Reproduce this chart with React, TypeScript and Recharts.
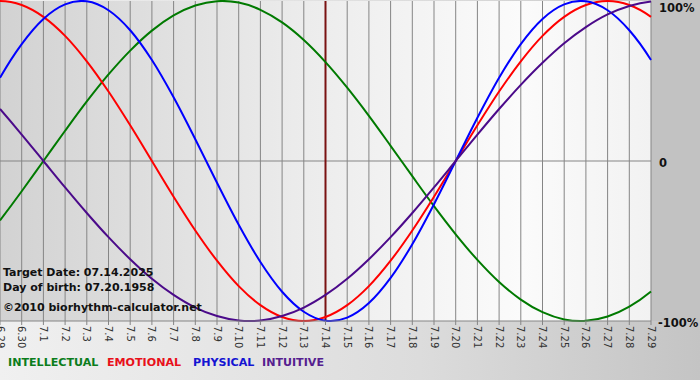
import { LineChart, Line, XAxis, YAxis, CartesianGrid, ReferenceLine } from "recharts";

const dates = [
  "6.29", "6.30", "7.1", "7.2", "7.3", "7.4", "7.5", "7.6", "7.7", "7.8", "7.9",
  "7.10", "7.11", "7.12", "7.13", "7.14", "7.15", "7.16", "7.17", "7.18", "7.19",
  "7.20", "7.21", "7.22", "7.23", "7.24", "7.25", "7.26", "7.27", "7.28", "7.29",
];

// percent values, one per day
const intellectual = [
  -37.2, -18.9, 0, 18.9, 37.2, 54.1, 69.0, 81.5, 91.0, 97.2, 99.9, 99.0, 94.5, 86.6, 75.6, 61.8,
  45.8, 28.2, 9.5, -9.5, -28.2, -45.8, -61.8, -75.6, -86.6, -94.5, -99.0, -99.9, -97.2, -91.0, -81.5,
];
const emotional = [
  100, 97.5, 90.1, 78.2, 62.3, 43.4, 22.3, 0, -22.3, -43.4, -62.3, -78.2, -90.1, -97.5, -100, -97.5,
  -90.1, -78.2, -62.3, -43.4, -22.3, 0, 22.3, 43.4, 62.3, 78.2, 90.1, 97.5, 100, 97.5, 90.1,
];
const physical = [
  52.0, 73.1, 88.8, 97.9, 99.8, 94.2, 81.7, 63.1, 39.8, 13.6, -13.6, -39.8, -63.1, -81.7, -94.2, -99.8,
  -97.9, -88.8, -73.1, -52.0, -27.0, 0, 27.0, 52.0, 73.1, 88.8, 97.9, 99.8, 94.2, 81.7, 63.1,
];
const intuitive = [
  32.5, 16.5, 0, -16.5, -32.5, -47.6, -61.4, -73.6, -83.7, -91.6, -96.9, -99.7, -99.7, -96.9, -91.6, -83.7,
  -73.6, -61.4, -47.6, -32.5, -16.5, 0, 16.5, 32.5, 47.6, 61.4, 73.6, 83.7, 91.6, 96.9, 99.7,
];

const yTicks = [100, 0, -100];
const targetDay = "7.14";
const infoLines = ["Target Date: 07.14.2025", "Day of birth: 07.20.1958", "©2010 biorhythm-calculator.net"];

const SERIES = [
  { key: "intellectual", label: "INTELLECTUAL", color: "#007a00", text: "#0b7d1c" },
  { key: "emotional", label: "EMOTIONAL", color: "#ff0000", text: "#e8101a" },
  { key: "physical", label: "PHYSICAL", color: "#0000ff", text: "#1414d2" },
  { key: "intuitive", label: "INTUITIVE", color: "#4b0a8a", text: "#55208f" },
];

const data = dates.map((date, i) => ({
  date,
  intellectual: intellectual[i],
  emotional: emotional[i],
  physical: physical[i],
  intuitive: intuitive[i],
}));

const FONT = "'DejaVu Sans', Verdana, sans-serif";

// cubic hermite through the points, tangents from neighbours
function smoothCurve(context: any) {
  let xs: number[] = [];
  let ys: number[] = [];
  return {
    areaStart() {},
    areaEnd() {},
    lineStart() {
      xs = [];
      ys = [];
    },
    point(x: number, y: number) {
      xs.push(+x);
      ys.push(+y);
    },
    lineEnd() {
      const n = xs.length;
      if (!n) return;
      context.moveTo(xs[0], ys[0]);
      if (n < 3) {
        for (let i = 1; i < n; i++) context.lineTo(xs[i], ys[i]);
        return;
      }
      const m = ys.map((_, i) => {
        if (i === 0) return (-3 * ys[0] + 4 * ys[1] - ys[2]) / 2;
        if (i === n - 1) return (3 * ys[n - 1] - 4 * ys[n - 2] + ys[n - 3]) / 2;
        return (ys[i + 1] - ys[i - 1]) / 2;
      });
      for (let i = 0; i < n - 1; i++) {
        const dx = xs[i + 1] - xs[i];
        context.bezierCurveTo(
          xs[i] + dx / 3,
          ys[i] + m[i] / 3,
          xs[i + 1] - dx / 3,
          ys[i + 1] - m[i + 1] / 3,
          xs[i + 1],
          ys[i + 1]
        );
      }
    },
  };
}

function XTick(props: any) {
  const { x, y, payload } = props;
  return (
    <g transform={`translate(${x},${y})`}>
      <text
        transform="rotate(90)"
        textAnchor="start"
        dominantBaseline="central"
        fontFamily={FONT}
        fontSize={10}
        fill="#333"
      >
        {payload.value}
      </text>
    </g>
  );
}

function YTick(props: any) {
  const { x, y, payload } = props;
  const v = payload.value;
  const label = v === 0 ? "0" : `${v}%`;
  const dy = v === 100 ? 7 : 2;
  return (
    <text
      x={v < 0 ? x - 1 : x}
      y={y + dy}
      textAnchor="start"
      dominantBaseline="central"
      fontFamily={FONT}
      fontWeight="bold"
      fontSize={11.5}
      fill="#111"
    >
      {label}
    </text>
  );
}

const legendLeft = [8, 107, 193, 262];
const infoTop = [266, 281, 301];

export default function App() {
  return (
    <div
      style={{
        position: "absolute",
        left: 0,
        top: 0,
        width: 700,
        height: 380,
        background: "linear-gradient(to right, #f0f0f0 0%, #dcdcdc 60%, #c4c4c4 100%)",
        fontFamily: FONT,
      }}
    >
      <div style={{ position: "absolute", left: 651, top: 0, width: 49, height: 321, background: "#c2c2c2" }} />
      <LineChart
        width={700}
        height={380}
        data={data}
        margin={{ top: 1, right: 0, left: 0, bottom: 0 }}
        style={{ position: "absolute", left: 0, top: 0 }}
      >
        <defs>
          <linearGradient id="plotBg" x1="0" y1="0" x2="1" y2="0">
            <stop offset="0%" stopColor="#d2d2d2" />
            <stop offset="45%" stopColor="#ebebeb" />
            <stop offset="80%" stopColor="#fbfbfb" />
            <stop offset="100%" stopColor="#f2f2f2" />
          </linearGradient>
        </defs>
        <CartesianGrid horizontal={false} stroke="#858585" fill="url(#plotBg)" fillOpacity={1} />
        <XAxis
          dataKey="date"
          interval={0}
          height={59}
          tickSize={4}
          tickMargin={1}
          stroke="#858585"
          tick={<XTick />}
        />
        <YAxis
          orientation="right"
          width={49}
          domain={[-100, 100]}
          ticks={yTicks}
          interval={0}
          axisLine={false}
          tickLine={false}
          tick={<YTick />}
        />
        <ReferenceLine y={0} stroke="#858585" />
        <ReferenceLine x={targetDay} stroke="#7a1212" strokeWidth={2} />
        {SERIES.map((s) => (
          <Line
            key={s.key}
            type={smoothCurve as any}
            dataKey={s.key}
            stroke={s.color}
            strokeWidth={2}
            dot={false}
            isAnimationActive={false}
          />
        ))}
      </LineChart>
      {infoLines.map((line, i) => (
        <div
          key={line}
          style={{
            position: "absolute",
            left: 3,
            top: infoTop[i],
            fontSize: 11,
            fontWeight: "bold",
            lineHeight: "14px",
            color: "#111",
            whiteSpace: "nowrap",
          }}
        >
          {line}
        </div>
      ))}
      {SERIES.map((s, i) => (
        <div
          key={s.key}
          style={{
            position: "absolute",
            left: legendLeft[i],
            top: 355,
            fontSize: 11.1,
            fontWeight: "bold",
            lineHeight: "16px",
            color: s.text,
            whiteSpace: "nowrap",
          }}
        >
          {s.label}
        </div>
      ))}
    </div>
  );
}
